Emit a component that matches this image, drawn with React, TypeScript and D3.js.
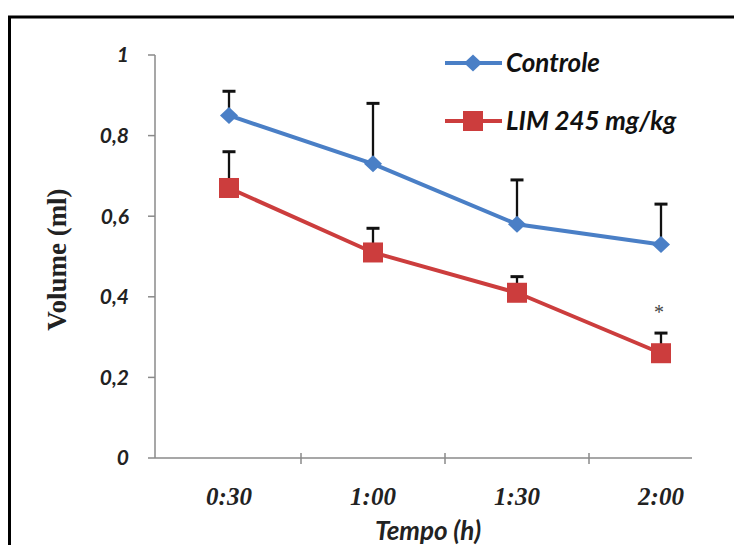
import React from "react";
import * as d3 from "d3";

const categories = ["0:30", "1:00", "1:30", "2:00"];
const controleValues = [0.85, 0.73, 0.58, 0.53];
const controleErrors = [0.06, 0.15, 0.11, 0.1];
const limValues = [0.67, 0.51, 0.41, 0.26];
const limErrors = [0.09, 0.06, 0.04, 0.05];
const yTickValues = [0, 0.2, 0.4, 0.6, 0.8, 1];
const seriesNames = ["Controle", "LIM 245 mg/kg"];
const significanceMarks = ["", "", "", "*"];
const significanceLevel = 0.38;

const BLUE = "#4a7fc6";
const RED = "#cc3d3d";
const AXIS = "#8a8a8a";
const SANS = "Lato, 'Open Sans', sans-serif";
const SERIF = "'Liberation Serif', 'DejaVu Serif', serif";

export default function App() {
  const width = 734;
  const height = 545;
  const x = d3.scaleBand<string>().domain(categories).range([157, 733]);
  const y = d3.scaleLinear().domain([0, 1]).range([458, 55]);
  const cx = (c: string) => (x(c) ?? 0) + x.bandwidth() / 2;
  const axisLeft = 155;
  const axisRight = 692;

  const line = d3
    .line<number>()
    .x((_, i) => cx(categories[i]))
    .y((d) => y(d));

  const diamond = (px: number, py: number, w: number, h: number) =>
    `M${px},${py - h / 2}L${px + w / 2},${py}L${px},${py + h / 2}L${px - w / 2},${py}Z`;

  const series = [
    { name: seriesNames[0], values: controleValues, errors: controleErrors, color: BLUE, shape: "diamond" },
    { name: seriesNames[1], values: limValues, errors: limErrors, color: RED, shape: "square" },
  ];

  const marker = (shape: string, px: number, py: number, color: string, key: string) =>
    shape === "diamond" ? (
      <path key={key} d={diamond(px, py, 18, 17)} fill={color} />
    ) : (
      <rect key={key} x={px - 10} y={py - 10} width={20} height={20} fill={color} />
    );

  const innerTicks = categories.slice(1).map((c) => x(c) ?? 0);

  return (
    <div style={{ position: "fixed", left: 0, top: 0 }}>
      <svg width={width} height={height} style={{ display: "block", background: "#fff" }}>
        {/* clipped title fragments from the page above */}
        <g fontFamily={SANS} fontWeight={700} fontSize={26} fill="#111">
          <text x={22} y={-5}>ç</text>
          <text x={298} y={-5}>p</text>
          <text x={372} y={-5}>p</text>
        </g>
        {/* frame */}
        <rect x={9.5} y={17} width={760} height={560} fill="none" stroke="#000" strokeWidth={3} />

        {/* y axis */}
        <line x1={axisLeft} x2={axisLeft} y1={y(1)} y2={y(0)} stroke={AXIS} strokeWidth={1.5} />
        {yTickValues.map((t) => (
          <g key={t}>
            <line x1={axisLeft - 7} x2={axisLeft} y1={y(t)} y2={y(t)} stroke={AXIS} strokeWidth={1.5} />
            <text
              x={129}
              y={y(t)}
              dy="0.35em"
              textAnchor="end"
              fontFamily={SANS}
              fontWeight={700}
              fontStyle="italic"
              fontSize={21}
              fill="#222"
            >
              {String(t).replace(".", ",")}
            </text>
          </g>
        ))}
        <text
          transform={`translate(66,${(y(0) + y(1)) / 2 + 3}) rotate(-90)`}
          textAnchor="middle"
          fontFamily={SERIF}
          fontWeight={700}
          fontSize={27}
          fill="#222"
        >
          Volume (ml)
        </text>

        {/* x axis */}
        <line x1={axisLeft} x2={axisRight} y1={y(0)} y2={y(0)} stroke={AXIS} strokeWidth={1.5} />
        {innerTicks.map((tx, i) => (
          <line key={i} x1={tx} x2={tx} y1={y(0) - 5} y2={y(0) + 6} stroke={AXIS} strokeWidth={1.5} />
        ))}
        {categories.map((c) => (
          <text
            key={c}
            x={cx(c)}
            y={505}
            textAnchor="middle"
            fontFamily={SERIF}
            fontWeight={700}
            fontStyle="italic"
            fontSize={25}
            fill="#222"
          >
            {c}
          </text>
        ))}
        <text
          x={428}
          y={540}
          textAnchor="middle"
          fontFamily={SANS}
          fontWeight={700}
          fontStyle="italic"
          fontSize={26}
          fill="#222"
        >
          Tempo (h)
        </text>

        {/* error bars */}
        {series.map((s) =>
          s.values.map((v, i) => {
            const px = cx(categories[i]);
            const top = y(v + s.errors[i]);
            return (
              <g key={`${s.name}-e${i}`} stroke="#111">
                <line x1={px} x2={px} y1={y(v)} y2={top} strokeWidth={2.3} />
                <line x1={px - 6.5} x2={px + 6.5} y1={top} y2={top} strokeWidth={3} />
              </g>
            );
          })
        )}

        {/* lines and markers */}
        {series.map((s) => (
          <g key={s.name}>
            <path d={line(s.values) ?? ""} fill="none" stroke={s.color} strokeWidth={4} />
            {s.values.map((v, i) => marker(s.shape, cx(categories[i]), y(v), s.color, `${s.name}-m${i}`))}
          </g>
        ))}

        {/* significance */}
        {significanceMarks.map((m, i) =>
          m ? (
            <text
              key={i}
              x={cx(categories[i]) - 2}
              y={y(significanceLevel)}
              dy="0.7em"
              textAnchor="middle"
              fontFamily={SERIF}
              fontSize={20}
              fill="#444"
            >
              {m}
            </text>
          ) : null
        )}

        {/* legend */}
        {series.map((s, i) => {
          const ly = 63 + i * 58;
          return (
            <g key={`leg-${s.name}`}>
              <line x1={445} x2={502} y1={ly} y2={ly} stroke={s.color} strokeWidth={4} />
              {marker(s.shape, 473, ly, s.color, `leg-m-${i}`)}
              <text
                x={506}
                y={ly}
                dy="0.35em"
                fontFamily={SANS}
                fontWeight={700}
                fontStyle="italic"
                fontSize={26}
                fill="#111"
              >
                {s.name}
              </text>
            </g>
          );
        })}
      </svg>
    </div>
  );
}
